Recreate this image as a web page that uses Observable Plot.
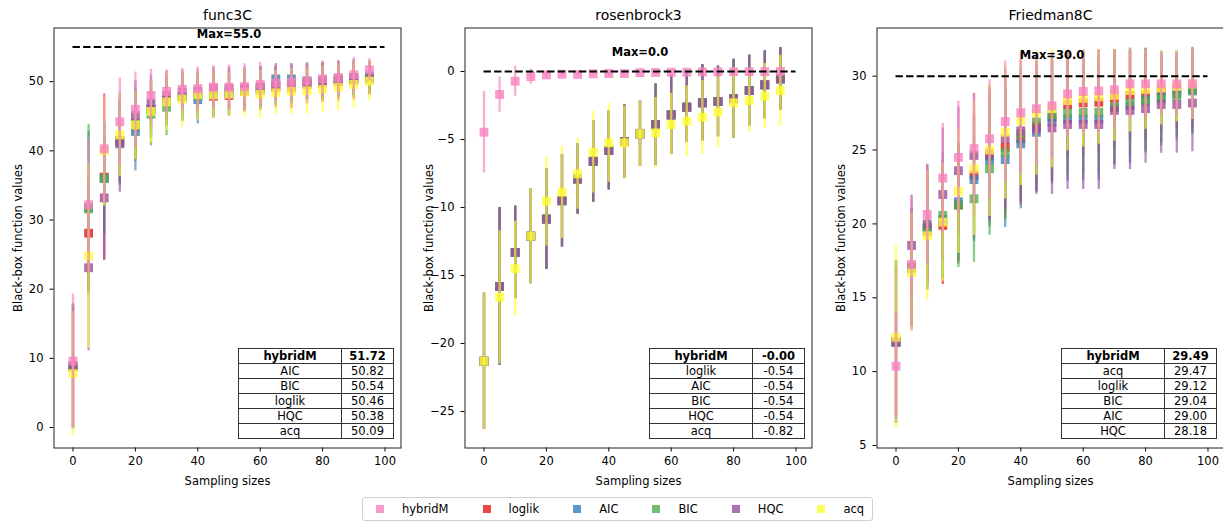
<!DOCTYPE html>
<html><head><meta charset="utf-8">
<script src="https://cdn.jsdelivr.net/npm/d3@7"></script>
<script src="https://cdn.jsdelivr.net/npm/@observablehq/plot@0.6"></script>
<style>
body{margin:0;background:#fff;font-family:"DejaVu Sans",sans-serif;}
#wrap{position:relative;width:1223px;height:522px;overflow:hidden;background:#fff;}
.panel{position:absolute;top:0;}
.panel svg{max-width:none !important;}
table.res{position:absolute;border-collapse:collapse;font-family:"DejaVu Sans",sans-serif;font-size:11.5px;color:#000;background:#fff;}
table.res td{border:1.3px solid #333;padding:0;text-align:center;height:14px;line-height:14px;}
table.res tr:first-child td{font-weight:bold;}
#legend{position:absolute;left:362px;top:497px;width:509px;height:22px;border:1px solid #d0d0d0;border-radius:3px;display:flex;align-items:center;font-size:11.5px;font-family:"DejaVu Sans",sans-serif;}
#legend .it{display:flex;align-items:center;}
#legend .sw{width:8px;height:8px;opacity:0.8;margin-right:18px;}
</style></head>
<body><div id="wrap"></div>
<script>
const sampleSizes = [0,5,10,15,20,25,30,35,40,45,50,55,60,65,70,75,80,85,90,95];
const seriesNames = ["hybridM","loglik","AIC","BIC","HQC","acq"];
const seriesColors = ["#f781bf","#e41a1c","#377eb8","#4daf4a","#984ea3","#ffff33"];
const xTicks = [0,20,40,60,80,100];

// ---- func3C ----
const func3C_hybridM = [9.6,32.2,40.3,44.2,46.0,48.0,48.6,48.9,49.0,49.2,49.2,49.3,49.6,49.8,49.9,50.1,50.4,50.6,51.0,51.72];
const func3C_hybridM_err = [9.7,9.7,7.7,6.3,5.4,3.8,3.1,3.0,3.1,3.1,3.2,3.3,3.2,2.7,2.7,2.7,2.6,2.5,2.5,1.6];
const func3C_loglik = [8.9,28.1,36.2,41.5,43.5,46.0,47.2,47.8,48.0,47.9,48.0,48.6,48.8,49.2,49.1,49.6,49.8,50.0,50.2,50.46];
const func3C_loglik_err = [9.0,8.5,12.0,6.0,5.0,4.0,3.5,3.5,3.3,3.2,3.0,3.0,3.0,3.0,3.0,2.8,2.8,2.8,2.8,2.4];
const func3C_AIC = [8.8,31.8,36.0,41.0,42.8,46.0,47.3,47.9,47.4,48.2,48.4,48.8,49.2,50.4,50.4,50.1,50.2,50.4,50.6,50.82];
const func3C_AIC_err = [9.0,11.0,8.0,6.0,5.7,4.2,3.8,3.6,3.5,3.3,3.2,3.0,3.0,2.2,2.2,2.6,2.6,2.6,2.6,2.2];
const func3C_BIC = [8.8,31.6,36.0,41.5,44.0,45.3,46.3,47.8,48.0,48.3,48.5,48.8,49.0,49.5,49.6,50.0,50.1,50.3,50.5,50.54];
const func3C_BIC_err = [9.0,12.2,8.0,6.0,5.0,4.6,4.1,3.5,3.4,3.2,3.2,3.0,3.0,2.8,2.8,2.6,2.6,2.5,2.5,2.2];
const func3C_HQC = [8.8,23.1,33.2,41.2,45.1,46.9,48.0,48.5,48.6,49.0,49.0,49.0,49.2,49.4,49.6,49.8,50.0,50.2,50.4,50.38];
const func3C_HQC_err = [8.6,12.0,9.0,7.2,5.0,4.0,3.5,3.2,3.2,3.1,3.1,3.1,3.0,2.8,2.8,2.7,2.7,2.6,2.6,2.2];
const func3C_acq = [7.8,24.8,40.0,42.3,43.7,45.7,47.1,47.5,48.1,48.1,48.2,48.5,48.2,48.4,48.6,48.7,48.9,49.2,49.6,50.09];
const func3C_acq_err = [9.0,13.4,8.0,6.0,5.0,4.5,4.2,4.1,3.6,3.4,3.2,3.5,3.5,3.2,3.4,3.4,3.4,3.4,3.5,2.9];
const func3C_max = 55.0;
const func3C_yTicks = [0,10,20,30,40,50];
const func3C_tableNames = ["hybridM","AIC","BIC","loglik","HQC","acq"];
const func3C_tableValues = ["51.72","50.82","50.54","50.46","50.38","50.09"];

// ---- rosenbrock3 ----
const rosen_hybridM = [-4.46,-1.69,-0.71,-0.37,-0.25,-0.2,-0.22,-0.17,-0.15,-0.15,-0.08,-0.07,-0.05,-0.05,-0.03,-0.02,-0.02,-0.01,-0.01,0.0];
const rosen_hybridM_err = [3.0,1.3,1.1,0.55,0.2,0.15,0.12,0.1,0.1,0.1,0.08,0.06,0.05,0.05,0.04,0.03,0.03,0.02,0.02,0.01];
// loglik, AIC, BIC and HQC coincide in this panel
const rosen_criteria = [-21.3,-15.8,-13.3,-12.1,-10.85,-9.5,-7.9,-6.6,-5.8,-5.15,-4.58,-3.92,-3.19,-2.62,-2.3,-2.2,-2.0,-1.4,-0.98,-0.54];
const rosen_criteria_err = [5.0,5.8,3.4,3.5,3.7,3.4,2.6,3.0,2.9,2.7,2.4,3.0,2.9,2.6,2.8,2.6,2.9,2.6,2.5,2.3];
const rosen_acq = [-21.3,-16.6,-14.5,-12.1,-9.53,-8.87,-7.52,-5.93,-5.24,-5.24,-4.58,-4.51,-3.9,-3.65,-3.36,-2.99,-2.3,-2.13,-1.81,-1.4];
const rosen_acq_err = [5.0,4.9,3.5,3.5,3.3,3.4,2.6,3.0,2.9,2.7,2.4,2.6,2.3,2.6,2.7,2.6,2.6,2.3,2.4,2.6];
const rosen_max = 0.0;
const rosen_yTicks = [0,-5,-10,-15,-20,-25];
const rosen_tableNames = ["hybridM","loglik","AIC","BIC","HQC","acq"];
const rosen_tableValues = ["-0.00","-0.54","-0.54","-0.54","-0.54","-0.82"];

// ---- Friedman8C ----
const fried_hybridM = [10.37,17.25,20.64,23.1,24.5,25.1,25.76,26.93,27.52,27.8,28.0,28.8,28.97,29.0,29.08,29.48,29.48,29.48,29.48,29.49];
const fried_hybridM_err = [3.6,4.5,3.4,3.7,3.8,3.7,4.0,4.1,4.1,3.8,3.6,3.0,2.8,2.8,2.7,2.3,2.3,2.1,2.1,2.4];
const fried_loglik = [12.0,17.0,19.5,19.9,21.3,23.3,24.6,25.2,25.76,26.6,27.2,28.06,28.2,28.24,28.5,28.7,28.74,28.96,29.08,29.12];
const fried_loglik_err = [5.5,4.0,4.0,4.0,4.0,4.3,4.5,4.8,4.5,4.4,4.3,3.6,3.5,3.5,3.3,3.1,3.1,2.7,2.6,2.7];
const fried_AIC = [12.0,17.0,19.7,20.3,21.5,23.0,24.3,24.36,25.42,26.2,26.9,27.1,27.1,27.1,27.9,28.0,28.4,28.6,28.8,29.0];
const fried_AIC_err = [5.5,4.0,4.0,4.0,4.0,4.2,4.5,4.6,4.4,4.2,4.2,4.2,4.2,4.2,3.9,3.9,3.5,3.1,2.9,2.95];
const fried_BIC = [12.0,17.1,19.78,20.57,21.25,21.7,23.73,24.85,26.1,26.9,27.4,27.5,27.56,27.56,27.9,28.2,28.3,28.47,28.65,29.04];
const fried_BIC_err = [5.5,4.0,4.2,4.3,4.2,4.3,4.5,4.6,4.5,4.2,4.2,4.2,4.2,4.2,3.9,3.6,3.5,3.2,3.0,2.8];
const fried_HQC = [12.0,18.54,20.0,21.99,23.6,24.63,24.8,25.76,26.3,26.44,26.5,26.73,26.73,26.73,27.68,27.68,27.8,28.08,28.08,28.18];
const fried_HQC_err = [5.0,3.4,4.0,4.5,4.3,4.2,4.5,4.8,4.8,4.3,4.5,4.4,4.4,4.4,4.0,4.0,3.7,3.3,3.3,3.3];
const fried_acq = [12.33,16.73,19.2,20.12,22.2,23.73,25.0,26.2,27.0,27.5,27.8,28.35,28.5,28.6,28.7,29.03,29.1,29.2,29.3,29.47];
const fried_acq_err = [6.2,4.0,4.4,4.0,4.2,4.5,4.5,4.5,4.4,4.2,4.0,3.4,3.3,3.2,3.1,2.8,2.7,2.5,2.4,2.4];
const fried_max = 30.0;
const fried_yTicks = [5,10,15,20,25,30];
const fried_tableNames = ["hybridM","acq","loglik","BIC","AIC","HQC"];
const fried_tableValues = ["29.49","29.47","29.12","29.04","29.00","28.18"];

const panels = [
  {title:"func3C", left:0, means:[func3C_hybridM,func3C_loglik,func3C_AIC,func3C_BIC,func3C_HQC,func3C_acq],
   errs:[func3C_hybridM_err,func3C_loglik_err,func3C_AIC_err,func3C_BIC_err,func3C_HQC_err,func3C_acq_err],
   max:func3C_max, yTicks:func3C_yTicks, yDomain:[-2.96,57.76], tNames:func3C_tableNames, tVals:func3C_tableValues},
  {title:"rosenbrock3", left:411, means:[rosen_hybridM,rosen_criteria,rosen_criteria,rosen_criteria,rosen_criteria,rosen_acq],
   errs:[rosen_hybridM_err,rosen_criteria_err,rosen_criteria_err,rosen_criteria_err,rosen_criteria_err,rosen_acq_err],
   max:rosen_max, yTicks:rosen_yTicks, yDomain:[-27.68,3.2], tNames:rosen_tableNames, tVals:rosen_tableValues},
  {title:"Friedman8C", left:823, means:[fried_hybridM,fried_loglik,fried_AIC,fried_BIC,fried_HQC,fried_acq],
   errs:[fried_hybridM_err,fried_loglik_err,fried_AIC_err,fried_BIC_err,fried_HQC_err,fried_acq_err],
   max:fried_max, yTicks:fried_yTicks, yDomain:[4.83,33.26], tNames:fried_tableNames, tVals:fried_tableValues}
];

// hybridM is drawn on top of the other series
const drawOrder = [1,2,3,4,5,0];

const wrap = document.getElementById("wrap");
const ML = 53.5, MT = 27.5, FW = 347, FH = 420, MB = 47.5, MR = 12;

panels.forEach(p => {
  const marks = [];
  drawOrder.forEach(i => {
    const rows = sampleSizes.map((x, j) => ({x, y: p.means[i][j], lo: p.means[i][j] - p.errs[i][j], hi: p.means[i][j] + p.errs[i][j]}));
    marks.push(Plot.ruleX(rows, {x:"x", y1:"lo", y2:"hi", stroke: seriesColors[i], strokeWidth: 2.3, strokeOpacity: 0.65}));
    marks.push(Plot.dot(rows, {x:"x", y:"y", symbol:"square", r:5, fill: seriesColors[i], fillOpacity: 0.8}));
  });
  marks.push(Plot.ruleY([p.max], {y: d => d, x1: sampleSizes[0], x2: xTicks[xTicks.length-1], stroke:"black", strokeWidth:2, strokeDasharray:"7.4,3.2"}));
  marks.push(Plot.text([p.max], {x: (xTicks[0]+xTicks[xTicks.length-1])/2, y: d => d + 1, text: d => `Max=${d.toFixed(1)}`, fontWeight:"bold", fontSize:11.5, lineAnchor:"bottom", dy:-2, fill:"black"}));
  marks.push(Plot.text([p.title], {text: d => d, frameAnchor:"top", lineAnchor:"bottom", dy:-8.5, fontSize:14, fill:"black"}));
  marks.push(Plot.axisX({ticks: xTicks, tickSize:4, tickPadding:5, fontSize:11.5, label:"Sampling sizes", labelAnchor:"center", labelOffset:37, labelArrow:"none"}));
  marks.push(Plot.axisY({ticks: p.yTicks, tickSize:4, tickPadding:6.5, fontSize:11.5, label:"Black-box function values", labelAnchor:"center", labelOffset:40, labelArrow:"none"}));
  marks.push(Plot.frame({stroke:"#222", strokeWidth:1}));

  const W = ML + FW + MR, H = MT + FH + MB;
  const chart = Plot.plot({
    width: W, height: H,
    marginLeft: ML, marginRight: MR, marginTop: MT, marginBottom: MB,
    x: {domain: [-6.09, 105.13]},
    y: {domain: p.yDomain},
    style: {fontFamily:"DejaVu Sans", fontSize:"11.5px", background:"transparent", overflow:"visible", color:"black", maxWidth:"none"},
    marks
  });
  chart.setAttribute("width", W);
  chart.setAttribute("height", H);
  chart.style.width = W + "px";
  chart.style.height = H + "px";
  const div = document.createElement("div");
  div.className = "panel";
  div.style.left = p.left + "px";
  div.style.width = W + "px";
  div.style.height = H + "px";
  div.appendChild(chart);
  wrap.appendChild(div);

  const tbl = document.createElement("table");
  tbl.className = "res";
  tbl.style.left = (p.left + ML + 184.5) + "px";
  tbl.style.top = "347.7px";
  p.tNames.forEach((n, k) => {
    const tr = document.createElement("tr");
    const a = document.createElement("td"); a.textContent = n; a.style.width = "102px";
    const b = document.createElement("td"); b.textContent = p.tVals[k]; b.style.width = "51px";
    tr.appendChild(a); tr.appendChild(b); tbl.appendChild(tr);
  });
  wrap.appendChild(tbl);
});

const legend = document.createElement("div");
legend.id = "legend";
seriesNames.forEach((n, i) => {
  const it = document.createElement("div"); it.className = "it";
  it.style.marginLeft = i === 0 ? "13px" : "34px";
  const sw = document.createElement("div"); sw.className = "sw"; sw.style.background = seriesColors[i];
  const lb = document.createElement("span"); lb.textContent = n;
  it.appendChild(sw); it.appendChild(lb); legend.appendChild(it);
});
wrap.appendChild(legend);
</script></body></html>
